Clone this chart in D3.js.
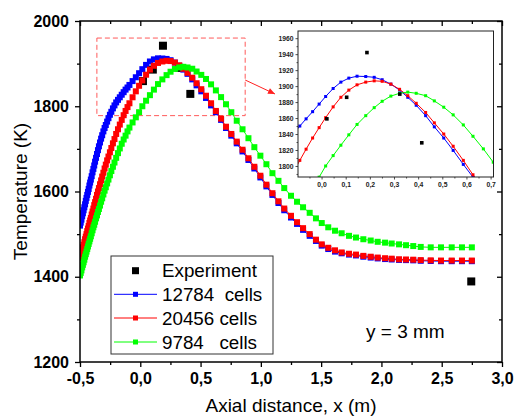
<!DOCTYPE html>
<html><head><meta charset="utf-8">
<script src="https://cdn.jsdelivr.net/npm/d3@7"></script>
<style>
html,body{margin:0;padding:0;background:#fff;}
svg{display:block;font-family:"Liberation Sans",Arial,sans-serif;}
</style></head><body>
<svg id="chart" width="515" height="418"></svg>
<script>
// Axial positions of the computed profile points (m)
const axialX = [
  -0.500,-0.494,-0.488,-0.482,-0.476,-0.470,-0.464,-0.458,-0.452,-0.446,
  -0.440,-0.434,-0.428,-0.422,-0.416,-0.410,-0.403,-0.396,-0.389,-0.382,
  -0.375,-0.367,-0.359,-0.351,-0.343,-0.334,-0.325,-0.316,-0.306,-0.296,
  -0.286,-0.275,-0.264,-0.252,-0.240,-0.227,-0.214,-0.200,-0.185,-0.170,
  -0.154,-0.138,-0.122,-0.106,-0.090,
  -0.064,-0.037,-0.010,0.017,0.048,0.080,0.113,0.147,0.183,0.218,
  0.251,0.287,0.323,0.357,0.392,0.431,0.467,0.506,0.545,0.587,
  0.627,0.670,0.711,0.755,0.800,0.848,0.897,0.946,0.996,1.046,
  1.096,1.146,1.194,1.250,1.300,1.350,1.405,1.457,1.505,1.559,
  1.615,1.670,1.731,1.789,1.850,1.911,1.969,2.030,2.085,2.146,
  2.204,2.264,2.326,2.409,2.494,2.583,2.668,2.750
];
// Temperature (K), mesh of 12784 cells
const temp12784 = [
  1520,1527,1534,1542,1549,1556,1563,1570,1578,1585,
  1592,1599,1606,1614,1621,1628,1636,1645,1653,1661,
  1670,1679,1688,1697,1706,1715,1724,1732,1741,1749,
  1756,1764,1772,1780,1787,1795,1802,1809,1815,1821,
  1827,1833,1839,1844,1850,
  1859,1868,1877.5,1887,1897,1905,1910,1912.4,1912,1911,
  1908,1902.5,1895,1886,1876,1863,1849,1835,1819.5,1802,
  1786,1768,1749,1731,1713,1694,1674,1654,1633,1612,
  1592,1573,1556,1539,1524,1510,1496,1484,1473,1465,
  1459,1455,1452,1450,1447,1445,1443,1441.5,1440.5,1439.5,
  1439,1438.5,1437.5,1437,1436.5,1436.5,1436.5,1436.5
];
// Temperature (K), mesh of 20456 cells
const temp20456 = [
  1443,1449,1456,1462,1469,1475,1481,1488,1494,1500,
  1507,1513,1519,1526,1532,1538,1546,1553,1560,1568,
  1575,1583,1592,1600,1608,1617,1626,1635,1644,1654,
  1663,1673,1682,1692,1702,1713,1723,1735,1746,1757,
  1768,1779,1789,1798,1807,
  1821,1835,1848,1860.5,1874,1886,1895,1901.6,1905,1906.6,
  1906,1902.5,1896,1888,1878.5,1867,1854,1840,1824.7,1807,
  1789,1771,1752,1735,1717,1698,1678,1658,1637,1616,
  1596,1577,1560,1543,1528,1514,1500,1487,1476,1468,
  1462,1457,1454,1452,1449,1447,1445,1443.5,1442.4,1441,
  1440.5,1440,1439,1438.5,1438,1438,1438,1438
];
// Temperature (K), mesh of 9784 cells
const temp9784 = [
  1403,1409,1415,1422,1428,1434,1440,1447,1453,1459,
  1465,1471,1477,1483,1489,1495,1502,1509,1516,1522,
  1529,1537,1544,1552,1559,1567,1576,1584,1593,1602,
  1610,1619,1628,1638,1648,1658,1668,1679,1690,1701,
  1712,1722,1731,1741,1750,
  1762,1774,1786,1800,1813,1826,1839,1852,1863,1873,
  1881,1887.5,1891,1892.5,1891,1888,1881.5,1873.6,1864,1851.4,
  1837.2,1821.4,1804.7,1786,1766,1746,1725,1704,1684,1664,
  1643,1625,1608,1590,1576,1563,1550,1537,1526,1516,
  1508,1502,1496,1492,1488,1485,1482,1480,1478,1476,
  1474,1472,1470,1469,1469,1469,1469,1469
];
// Measured temperatures
const expX = [0.022, 0.104, 0.188, 0.324, 0.415, 2.745];
const expT = [1859, 1886, 1942, 1890, 1829, 1389];

const seriesLabels = ["12784  cells", "20456 cells", "9784   cells"];
const seriesColors = ["#0000ff", "#ff0000", "#00ff00"];
const seriesTemps = [temp12784, temp20456, temp9784];

const xTicks = [-0.5, 0, 0.5, 1, 1.5, 2, 2.5, 3];
const xMinor = [-0.25, 0.25, 0.75, 1.25, 1.75, 2.25, 2.75];
const yTicks = [1200, 1400, 1600, 1800, 2000];
const yMinor = [1300, 1500, 1700, 1900];
const insetXTicks = [0, 0.1, 0.2, 0.3, 0.4, 0.5, 0.6, 0.7];
const insetXMinor = [-0.05, 0.05, 0.15, 0.25, 0.35, 0.45, 0.55, 0.65];
const insetYTicks = [1800, 1820, 1840, 1860, 1880, 1900, 1920, 1940, 1960];
const insetYMinor = [1790, 1810, 1830, 1850, 1870, 1890, 1910, 1930, 1950];
// Region of the main plot that the inset enlarges
const zoomXRange = [-0.36, 0.87];
const zoomTRange = [1778, 1960];

const svg = d3.select("#chart");
const fmt = d => d.toFixed(1).replace(".", ",");

// ---------- main plot ----------
const M = {l: 80, r: 502, t: 21, b: 362};
const x = d3.scaleLinear().domain([-0.5, 3.0]).range([M.l, M.r]);
const y = d3.scaleLinear().domain([1200, 2000]).range([M.b, M.t]);

const axisFont = g => g.selectAll("text")
  .attr("font-family", "'Liberation Sans',Arial,sans-serif")
  .attr("font-size", 16).attr("font-weight", "bold").attr("fill", "#000");
const clean = g => { g.select(".domain").remove(); g.selectAll("line").attr("stroke", "#000").attr("stroke-width", 1.3); };

svg.append("g").attr("transform", `translate(0,${M.b})`)
  .call(d3.axisBottom(x).tickValues(xTicks).tickSize(5).tickPadding(6).tickFormat(fmt))
  .call(clean).call(axisFont);
svg.append("g").attr("transform", `translate(0,${M.b})`)
  .call(d3.axisBottom(x).tickValues(xMinor).tickSize(3).tickFormat(""))
  .call(clean);
svg.append("g").attr("transform", `translate(${M.l},0)`)
  .call(d3.axisLeft(y).tickValues(yTicks).tickSize(5).tickPadding(6).tickFormat(d3.format("d")))
  .call(clean).call(axisFont);
svg.append("g").attr("transform", `translate(${M.l},0)`)
  .call(d3.axisLeft(y).tickValues(yMinor).tickSize(3).tickFormat(""))
  .call(clean);
svg.append("g").attr("transform", `translate(0,${M.t})`)
  .call(d3.axisTop(x).tickValues(xTicks).tickSize(-5).tickFormat(""))
  .call(clean);
svg.append("g").attr("transform", `translate(0,${M.t})`)
  .call(d3.axisTop(x).tickValues(xMinor).tickSize(-3).tickFormat(""))
  .call(clean);
svg.append("g").attr("transform", `translate(${M.r},0)`)
  .call(d3.axisRight(y).tickValues(yTicks).tickSize(-5).tickFormat(""))
  .call(clean);
svg.append("g").attr("transform", `translate(${M.r},0)`)
  .call(d3.axisRight(y).tickValues(yMinor).tickSize(-3).tickFormat(""))
  .call(clean);

svg.append("defs").append("clipPath").attr("id", "mainClip")
  .append("rect").attr("x", M.l).attr("y", M.t).attr("width", M.r - M.l).attr("height", M.b - M.t);

const plot = svg.append("g").attr("clip-path", "url(#mainClip)");

// zoom region outline
plot.append("rect")
  .attr("x", x(zoomXRange[0])).attr("y", y(zoomTRange[1]))
  .attr("width", x(zoomXRange[1]) - x(zoomXRange[0]))
  .attr("height", y(zoomTRange[0]) - y(zoomTRange[1]))
  .attr("fill", "none").attr("stroke", "#ff5a5a").attr("stroke-width", 1)
  .attr("stroke-dasharray", "5,3");

// measured points
plot.selectAll("rect.exp").data(expX).join("rect").attr("class", "exp")
  .attr("x", (d, i) => x(d) - 4).attr("y", (d, i) => y(expT[i]) - 4)
  .attr("width", 8).attr("height", 8).attr("fill", "#000");

// computed profiles
seriesTemps.forEach((temps, s) => {
  const pts = axialX.map((d, i) => [d, temps[i]]);
  plot.append("path").datum(pts)
    .attr("d", d3.line().x(d => x(d[0])).y(d => y(d[1])))
    .attr("fill", "none").attr("stroke", seriesColors[s]).attr("stroke-width", 1);
  plot.append("g").selectAll("rect").data(pts).join("rect")
    .attr("x", d => x(d[0]) - 3).attr("y", d => y(d[1]) - 3)
    .attr("width", 6).attr("height", 6).attr("fill", seriesColors[s]);
});

// frame
svg.append("rect").attr("x", M.l).attr("y", M.t).attr("width", M.r - M.l).attr("height", M.b - M.t)
  .attr("fill", "none").attr("stroke", "#000").attr("stroke-width", 1.5);

// axis titles
svg.append("text").attr("x", (M.l + M.r) / 2).attr("y", 412).attr("text-anchor", "middle")
  .attr("font-size", 19).text("Axial distance, x (m)");
svg.append("text").attr("transform", `translate(27,${(M.t + M.b) / 2}) rotate(-90)`)
  .attr("text-anchor", "middle").attr("font-size", 19).text("Temperature (K)");

// annotation
svg.append("text").attr("x", 366).attr("y", 337.5).attr("font-size", 19).text("y = 3 mm");

// ---------- legend ----------
const L = {x: 111, y: 256, w: 162, h: 98};
const lg = svg.append("g");
lg.append("rect").attr("x", L.x).attr("y", L.y).attr("width", L.w).attr("height", L.h)
  .attr("fill", "#fff").attr("stroke", "#333").attr("stroke-width", 1);
const rowY = [270.7, 294.3, 318, 342];
lg.append("rect").attr("x", 135.5 - 3.5).attr("y", rowY[0] - 3.5).attr("width", 7).attr("height", 7).attr("fill", "#000");
lg.append("text").attr("x", 162).attr("y", rowY[0] + 6.5).attr("font-size", 18.8).text("Experiment");
seriesLabels.forEach((lab, s) => {
  const yy = rowY[s + 1];
  lg.append("line").attr("x1", 114).attr("x2", 157).attr("y1", yy).attr("y2", yy)
    .attr("stroke", seriesColors[s]).attr("stroke-width", 1);
  lg.append("rect").attr("x", 135.5 - 2.5).attr("y", yy - 2.5).attr("width", 5).attr("height", 5).attr("fill", seriesColors[s]);
  lg.append("text").attr("x", 162).attr("y", yy + 6.5).attr("font-size", 18.8)
    .style("white-space", "pre").text(lab);
});

// ---------- inset ----------
const I = {l: 298, r: 493.5, t: 31, b: 177};
const xi = d3.scaleLinear().domain([-0.0975, 0.712]).range([I.l, I.r]);
const yi = d3.scaleLinear().domain([1786.2, 1969]).range([I.b, I.t]);

svg.append("rect").attr("x", I.l).attr("y", I.t).attr("width", I.r - I.l).attr("height", I.b - I.t)
  .attr("fill", "#fff");

const insetFont = g => g.selectAll("text")
  .attr("font-family", "'Liberation Sans',Arial,sans-serif")
  .attr("font-size", 6.8).attr("font-weight", "bold").attr("fill", "#222");
const thin = g => { g.select(".domain").remove(); g.selectAll("line").attr("stroke", "#222").attr("stroke-width", 0.8); };

svg.append("g").attr("transform", `translate(0,${I.b})`)
  .call(d3.axisBottom(xi).tickValues(insetXTicks).tickSize(2.5).tickPadding(3).tickFormat(fmt))
  .call(thin).call(insetFont);
svg.append("g").attr("transform", `translate(0,${I.b})`)
  .call(d3.axisBottom(xi).tickValues(insetXMinor).tickSize(1.5).tickFormat(""))
  .call(thin);
svg.append("g").attr("transform", `translate(${I.l},0)`)
  .call(d3.axisLeft(yi).tickValues(insetYTicks).tickSize(2.5).tickPadding(2).tickFormat(d3.format("d")))
  .call(thin).call(insetFont);
svg.append("g").attr("transform", `translate(${I.l},0)`)
  .call(d3.axisLeft(yi).tickValues(insetYMinor).tickSize(1.5).tickFormat(""))
  .call(thin);

svg.select("defs").append("clipPath").attr("id", "insetClip")
  .append("rect").attr("x", I.l).attr("y", I.t).attr("width", I.r - I.l).attr("height", I.b - I.t);
const ip = svg.append("g").attr("clip-path", "url(#insetClip)");

seriesTemps.forEach((temps, s) => {
  const pts = axialX.map((d, i) => [d, temps[i]]);
  ip.append("path").datum(pts)
    .attr("d", d3.line().x(d => xi(d[0])).y(d => yi(d[1])))
    .attr("fill", "none").attr("stroke", seriesColors[s]).attr("stroke-width", 1);
  ip.append("g").selectAll("rect").data(pts).join("rect")
    .attr("x", d => xi(d[0]) - 1.5).attr("y", d => yi(d[1]) - 1.5)
    .attr("width", 3).attr("height", 3).attr("fill", seriesColors[s]);
});
ip.selectAll("rect.iexp").data(expX).join("rect").attr("class", "iexp")
  .attr("x", d => xi(d) - 1.8).attr("y", (d, i) => yi(expT[i]) - 1.8)
  .attr("width", 3.6).attr("height", 3.6).attr("fill", "#000");

svg.append("rect").attr("x", I.l).attr("y", I.t).attr("width", I.r - I.l).attr("height", I.b - I.t)
  .attr("fill", "none").attr("stroke", "#222").attr("stroke-width", 1);

// arrow from the outlined region to the inset
const a0 = [x(zoomXRange[1]), 80], a1 = [275, 94];
svg.append("line").attr("x1", a0[0]).attr("y1", a0[1]).attr("x2", a1[0]).attr("y2", a1[1])
  .attr("stroke", "#ff2020").attr("stroke-width", 1);
{
  const ang = Math.atan2(a1[1] - a0[1], a1[0] - a0[0]);
  const len = 7, half = 3;
  const bx = a1[0] - len * Math.cos(ang), by = a1[1] - len * Math.sin(ang);
  const px = -Math.sin(ang) * half, py = Math.cos(ang) * half;
  svg.append("path")
    .attr("d", `M${a1[0]},${a1[1]}L${bx + px},${by + py}L${bx - px},${by - py}Z`)
    .attr("fill", "#ff2020");
}
</script>
</body></html>
